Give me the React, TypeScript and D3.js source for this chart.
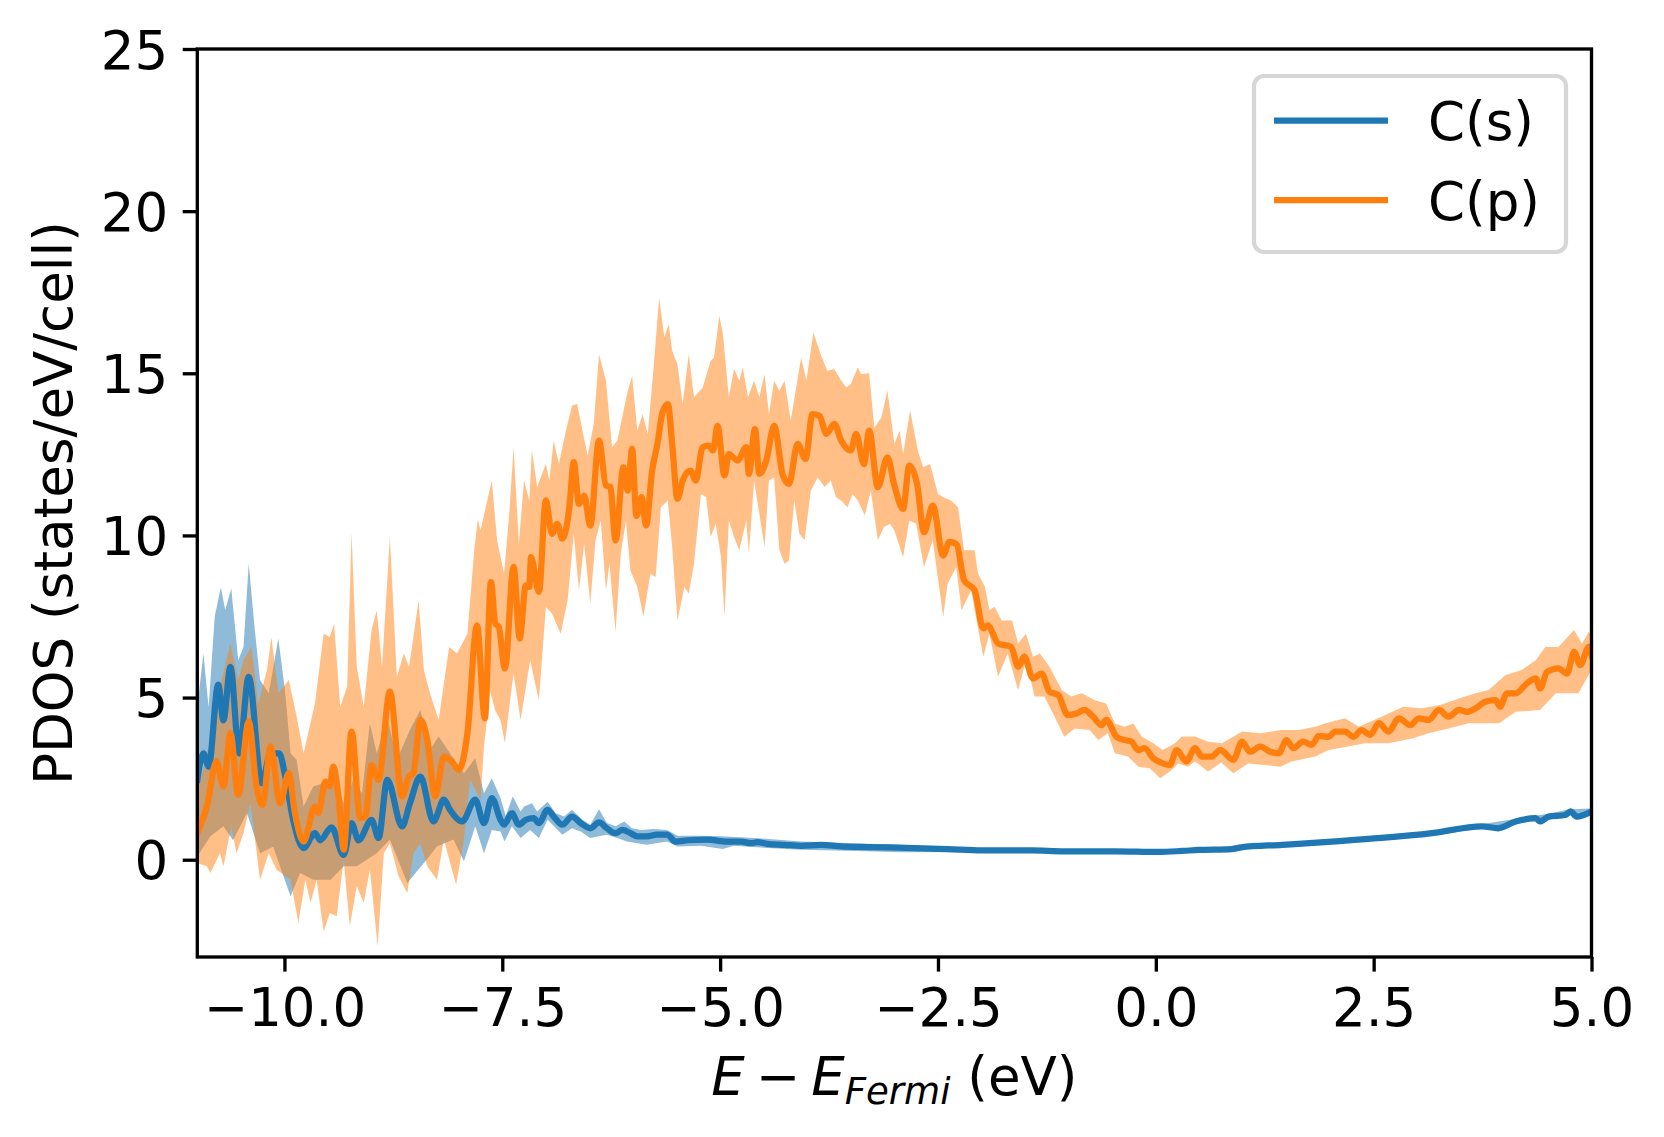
import { useEffect, useRef } from 'react';
import * as d3 from 'd3';

type Pt = [number, number];

const xTicks = [-10, -7.5, -5, -2.5, 0, 2.5, 5];
const yTicks = [0, 5, 10, 15, 20, 25];
const seriesNames = ['C(s)', 'C(p)'];
const seriesColors = ['#1f77b4', '#ff7f0e'];

// C(s): mean curve and the edges of its shaded band, [E - E_Fermi (eV), PDOS]
const sLine: Pt[] = [
  [-11.0, 2.46], [-10.93, 3.28], [-10.87, 2.87], [-10.76, 5.4], [-10.7, 4.3], [-10.62, 5.95],
  [-10.52, 3.28], [-10.41, 5.64], [-10.26, 2.36], [-10.16, 3.28], [-10.06, 3.28], [-9.99, 2.56],
  [-9.9, 1.23], [-9.78, 0.36], [-9.65, 0.82], [-9.59, 0.6], [-9.46, 1.0], [-9.32, 0.15],
  [-9.23, 1.13], [-9.15, 0.6], [-9.0, 1.23], [-8.92, 0.67], [-8.82, 2.46], [-8.65, 1.03],
  [-8.56, 1.74], [-8.44, 2.56], [-8.29, 1.18], [-8.17, 1.85], [-8.1, 1.54], [-7.96, 1.18],
  [-7.81, 1.85], [-7.71, 1.13], [-7.62, 1.9], [-7.52, 1.23], [-7.48, 1.08], [-7.39, 1.44],
  [-7.31, 1.08], [-7.23, 1.23], [-7.14, 1.28], [-7.08, 1.13], [-6.98, 1.54], [-6.91, 1.33],
  [-6.81, 1.08], [-6.7, 1.33], [-6.6, 1.13], [-6.49, 0.97], [-6.39, 1.15], [-6.3, 0.97],
  [-6.2, 0.82], [-6.12, 0.92], [-6.03, 0.82], [-5.95, 0.72], [-5.84, 0.72], [-5.72, 0.77],
  [-5.61, 0.77], [-5.51, 0.56], [-5.37, 0.6], [-5.15, 0.62], [-4.92, 0.56], [-4.76, 0.56],
  [-4.65, 0.51], [-4.57, 0.54], [-4.46, 0.49], [-4.26, 0.46], [-4.07, 0.43], [-3.84, 0.46],
  [-3.61, 0.41], [-3.31, 0.39], [-2.77, 0.36], [-2.39, 0.33], [-2.0, 0.29], [-1.43, 0.29],
  [-1.05, 0.26], [-0.47, 0.26], [0.03, 0.24], [0.3, 0.27], [0.49, 0.3], [0.87, 0.33],
  [0.98, 0.38], [1.45, 0.46], [2.02, 0.56], [2.59, 0.67], [3.17, 0.82], [3.74, 1.03],
  [3.93, 0.97], [4.13, 1.18], [4.36, 1.28], [4.41, 1.18], [4.51, 1.33], [4.7, 1.38],
  [4.76, 1.49], [4.83, 1.33], [5.0, 1.49],
];

const sUpper: Pt[] = [
  [-11.0, 4.7], [-10.93, 6.36], [-10.87, 4.7], [-10.8, 7.5], [-10.73, 8.4], [-10.68, 7.7],
  [-10.61, 8.36], [-10.53, 6.15], [-10.47, 6.56], [-10.41, 9.13], [-10.34, 7.08], [-10.28, 5.54],
  [-10.18, 5.13], [-10.07, 6.82], [-9.99, 5.13], [-9.93, 3.28], [-9.86, 3.08], [-9.78, 1.64],
  [-9.67, 2.26], [-9.55, 2.36], [-9.44, 2.67], [-9.32, 1.74], [-9.21, 2.46], [-9.11, 2.05],
  [-9.02, 4.2], [-8.94, 3.28], [-8.82, 4.41], [-8.71, 3.08], [-8.56, 4.0], [-8.44, 4.62],
  [-8.33, 3.38], [-8.23, 3.8], [-8.1, 3.28], [-7.94, 2.67], [-7.81, 3.13], [-7.71, 2.05],
  [-7.62, 2.51], [-7.52, 1.9], [-7.46, 1.35], [-7.38, 1.95], [-7.29, 1.49], [-7.25, 1.64],
  [-7.16, 1.74], [-7.1, 1.49], [-6.98, 1.79], [-6.89, 1.44], [-6.79, 1.33], [-6.7, 1.54],
  [-6.58, 1.23], [-6.49, 1.08], [-6.39, 1.56], [-6.3, 1.13], [-6.2, 1.03], [-6.1, 1.18],
  [-6.01, 0.97], [-5.91, 0.92], [-5.76, 0.95], [-5.61, 0.92], [-5.49, 0.74], [-5.22, 0.74],
  [-4.99, 0.72], [-4.61, 0.67], [-4.07, 0.56], [-3.31, 0.49], [-2.92, 0.46], [-2.0, 0.34],
  [-1.0, 0.31], [0.0, 0.29], [0.5, 0.35], [1.0, 0.43], [1.5, 0.51], [2.0, 0.62],
  [2.6, 0.73], [3.2, 0.88], [3.75, 1.1], [4.1, 1.25], [4.5, 1.42], [4.75, 1.56], [5.0, 1.58],
];

const sLower: Pt[] = [
  [-11.0, 0.1], [-10.85, 0.72], [-10.7, 1.03], [-10.59, 0.6], [-10.43, 1.44], [-10.28, 0.2],
  [-10.13, 0.4], [-9.93, -1.13], [-9.82, -0.41], [-9.67, -0.62], [-9.47, -0.62], [-9.32, -0.2],
  [-9.17, -0.2], [-8.94, 0.2], [-8.79, 0.62], [-8.59, -0.72], [-8.4, -0.1], [-8.25, 0.41],
  [-8.06, 0.62], [-7.94, -0.05], [-7.81, 1.03], [-7.71, 0.2], [-7.62, 0.92], [-7.52, 0.87],
  [-7.475, 0.56], [-7.39, 1.03], [-7.29, 0.67], [-7.18, 0.92], [-7.08, 0.67], [-6.98, 1.23],
  [-6.81, 0.77], [-6.7, 0.97], [-6.6, 0.87], [-6.49, 0.67], [-6.39, 0.72], [-6.3, 0.77],
  [-6.18, 0.67], [-6.07, 0.56], [-5.95, 0.51], [-5.84, 0.46], [-5.61, 0.56], [-5.49, 0.41],
  [-5.22, 0.43], [-4.97, 0.33], [-4.84, 0.43], [-4.46, 0.36], [-4.07, 0.31], [-3.31, 0.26],
  [-2.92, 0.23], [-2.0, 0.24], [-1.0, 0.21], [0.0, 0.19], [0.5, 0.25], [1.0, 0.33],
  [1.5, 0.41], [2.0, 0.5], [2.6, 0.61], [3.2, 0.76], [3.75, 0.96], [4.1, 1.1], [4.5, 1.25],
  [4.75, 1.36], [5.0, 1.38],
];

// C(p)
const pLine: Pt[] = [
  [-11.0, 0.82], [-10.89, 1.64], [-10.78, 3.03], [-10.7, 2.26], [-10.62, 3.9], [-10.53, 2.0],
  [-10.41, 4.26], [-10.32, 2.26], [-10.25, 1.69], [-10.16, 3.49], [-10.05, 1.74], [-9.95, 2.67],
  [-9.88, 1.44], [-9.78, 0.56], [-9.65, 1.64], [-9.61, 1.44], [-9.53, 2.41], [-9.48, 2.26],
  [-9.44, 2.87], [-9.38, 1.95], [-9.32, 0.31], [-9.23, 3.95], [-9.13, 1.28], [-9.07, 1.33],
  [-9.0, 2.92], [-8.92, 2.46], [-8.79, 5.18], [-8.65, 1.95], [-8.57, 2.56], [-8.52, 2.67],
  [-8.44, 4.31], [-8.36, 3.69], [-8.27, 1.95], [-8.17, 3.18], [-8.08, 3.03], [-8.0, 2.77],
  [-7.9, 3.9], [-7.79, 7.23], [-7.7, 4.36], [-7.63, 8.56], [-7.58, 7.28], [-7.54, 7.18],
  [-7.47, 5.9], [-7.37, 9.03], [-7.3, 6.82], [-7.23, 8.46], [-7.19, 8.41], [-7.17, 9.33],
  [-7.08, 8.26], [-7.0, 11.08], [-6.93, 10.05], [-6.87, 10.36], [-6.81, 9.9], [-6.73, 10.87],
  [-6.68, 12.26], [-6.62, 10.97], [-6.56, 11.23], [-6.49, 10.3], [-6.39, 12.92], [-6.31, 11.54],
  [-6.26, 11.49], [-6.2, 9.85], [-6.11, 12.1], [-6.06, 11.38], [-6.01, 12.67], [-5.96, 10.6],
  [-5.9, 11.18], [-5.85, 10.31], [-5.78, 12.0], [-5.72, 12.82], [-5.66, 13.8], [-5.6, 14.05],
  [-5.55, 12.82], [-5.49, 11.13], [-5.43, 11.69], [-5.34, 12.0], [-5.28, 11.69], [-5.2, 12.72],
  [-5.13, 12.77], [-5.08, 12.62], [-5.03, 13.38], [-4.95, 11.85], [-4.9, 12.51], [-4.8, 12.31],
  [-4.7, 12.72], [-4.67, 11.9], [-4.6, 13.28], [-4.55, 11.9], [-4.47, 12.31], [-4.38, 13.38],
  [-4.28, 11.85], [-4.21, 11.59], [-4.11, 12.82], [-4.02, 12.36], [-3.94, 13.74], [-3.86, 13.69],
  [-3.78, 13.13], [-3.69, 13.44], [-3.61, 12.92], [-3.5, 12.62], [-3.44, 13.13], [-3.35, 12.2],
  [-3.29, 13.23], [-3.19, 11.49], [-3.08, 12.41], [-3.0, 11.54], [-2.9, 10.82], [-2.83, 12.15],
  [-2.74, 11.59], [-2.66, 10.1], [-2.56, 10.92], [-2.44, 9.38], [-2.37, 9.8], [-2.29, 9.74],
  [-2.2, 8.62], [-2.08, 8.31], [-1.98, 7.13], [-1.93, 7.23], [-1.81, 6.67], [-1.66, 6.56],
  [-1.58, 5.95], [-1.51, 6.26], [-1.41, 5.59], [-1.31, 5.74], [-1.22, 5.18], [-1.12, 5.08],
  [-1.01, 4.46], [-0.91, 4.51], [-0.82, 4.62], [-0.72, 4.41], [-0.62, 4.15], [-0.57, 4.31],
  [-0.45, 3.79], [-0.36, 3.69], [-0.28, 3.64], [-0.2, 3.38], [-0.13, 3.44], [-0.03, 3.13],
  [0.08, 2.97], [0.16, 2.92], [0.24, 3.38], [0.35, 3.03], [0.45, 3.44], [0.53, 3.18],
  [0.64, 3.18], [0.74, 3.38], [0.89, 3.08], [0.99, 3.64], [1.08, 3.33], [1.2, 3.49],
  [1.31, 3.33], [1.41, 3.28], [1.5, 3.69], [1.58, 3.44], [1.69, 3.64], [1.79, 3.54],
  [1.87, 3.82], [1.98, 3.79], [2.06, 3.95], [2.17, 3.95], [2.27, 3.79], [2.36, 4.0],
  [2.46, 3.85], [2.56, 4.21], [2.67, 3.95], [2.79, 4.36], [2.92, 4.15], [3.02, 4.36],
  [3.13, 4.31], [3.25, 4.62], [3.36, 4.41], [3.48, 4.62], [3.57, 4.56], [3.67, 4.67],
  [3.78, 4.87], [3.9, 4.92], [3.95, 4.72], [4.03, 5.13], [4.13, 5.13], [4.26, 5.44],
  [4.36, 5.59], [4.41, 5.28], [4.49, 5.79], [4.62, 5.9], [4.72, 5.74], [4.8, 6.41],
  [4.87, 6.0], [4.97, 6.56], [5.0, 6.31],
];

const pUpper: Pt[] = [
  [-11.0, 2.05], [-10.89, 3.28], [-10.82, 3.9], [-10.74, 5.33], [-10.62, 6.67], [-10.53, 5.54],
  [-10.47, 6.15], [-10.38, 6.56], [-10.3, 4.82], [-10.2, 5.85], [-10.15, 6.87], [-10.07, 5.13],
  [-9.95, 5.54], [-9.86, 4.41], [-9.78, 3.28], [-9.65, 4.82], [-9.55, 6.97], [-9.48, 6.87],
  [-9.43, 7.28], [-9.36, 4.72], [-9.28, 5.33], [-9.23, 10.1], [-9.17, 5.95], [-9.09, 4.72],
  [-9.0, 7.08], [-8.94, 7.69], [-8.88, 5.95], [-8.79, 9.95], [-8.71, 5.64], [-8.63, 6.36],
  [-8.57, 5.95], [-8.46, 8.0], [-8.4, 5.85], [-8.33, 5.13], [-8.23, 4.31], [-8.11, 6.56],
  [-8.02, 6.36], [-7.9, 6.97], [-7.82, 9.6], [-7.78, 10.5], [-7.75, 10.15], [-7.62, 11.69],
  [-7.56, 9.85], [-7.48, 8.82], [-7.42, 10.67], [-7.37, 12.72], [-7.31, 9.74], [-7.25, 11.69],
  [-7.19, 11.08], [-7.16, 12.62], [-7.1, 11.49], [-7.0, 12.21], [-6.96, 11.69], [-6.91, 12.92],
  [-6.85, 12.21], [-6.77, 13.23], [-6.7, 14.0], [-6.64, 14.05], [-6.58, 13.23], [-6.52, 12.46],
  [-6.45, 13.44], [-6.39, 15.59], [-6.31, 14.77], [-6.24, 12.72], [-6.18, 12.92], [-6.06, 14.46],
  [-6.01, 14.92], [-5.95, 13.23], [-5.89, 13.74], [-5.83, 13.13], [-5.76, 15.28], [-5.7, 17.33],
  [-5.64, 16.1], [-5.59, 16.51], [-5.55, 15.69], [-5.49, 15.28], [-5.43, 14.05], [-5.36, 15.59],
  [-5.3, 14.26], [-5.2, 14.56], [-5.11, 15.38], [-5.07, 15.49], [-5.01, 16.77], [-4.97, 16.26],
  [-4.9, 14.26], [-4.84, 15.13], [-4.78, 14.77], [-4.74, 15.18], [-4.68, 14.26], [-4.61, 14.77],
  [-4.55, 14.26], [-4.49, 14.97], [-4.44, 13.74], [-4.38, 14.77], [-4.32, 14.46], [-4.26, 14.77],
  [-4.19, 13.54], [-4.07, 15.49], [-4.01, 14.77], [-3.93, 16.26], [-3.84, 15.54], [-3.77, 15.08],
  [-3.69, 15.13], [-3.61, 14.77], [-3.55, 14.56], [-3.5, 14.67], [-3.42, 15.18], [-3.38, 14.97],
  [-3.29, 15.0], [-3.23, 13.33], [-3.15, 13.64], [-3.08, 14.46], [-3.0, 12.82], [-2.94, 13.23],
  [-2.9, 12.5], [-2.82, 13.85], [-2.73, 12.6], [-2.67, 12.1], [-2.59, 12.2], [-2.5, 11.28],
  [-2.44, 11.18], [-2.35, 11.08], [-2.27, 10.87], [-2.2, 9.54], [-2.08, 9.54], [-2.04, 8.82],
  [-1.96, 8.41], [-1.91, 7.69], [-1.85, 7.8], [-1.77, 7.38], [-1.65, 7.38], [-1.58, 6.67],
  [-1.49, 6.97], [-1.41, 6.26], [-1.33, 6.36], [-1.22, 5.95], [-1.08, 5.23], [-0.97, 5.03],
  [-0.85, 5.13], [-0.7, 4.92], [-0.57, 4.82], [-0.47, 4.2], [-0.36, 4.1], [-0.26, 4.2],
  [-0.16, 3.79], [-0.03, 3.59], [0.08, 3.38], [0.22, 3.59], [0.3, 3.8], [0.45, 3.8],
  [0.6, 3.64], [0.76, 3.59], [0.99, 3.95], [1.2, 3.9], [1.44, 4.0], [1.64, 4.0],
  [1.83, 4.1], [1.94, 4.2], [2.17, 4.36], [2.33, 4.1], [2.59, 4.41], [2.84, 4.72],
  [3.05, 4.67], [3.26, 4.77], [3.48, 4.97], [3.67, 5.13], [3.82, 5.23], [4.01, 5.69],
  [4.2, 5.85], [4.36, 6.15], [4.47, 6.56], [4.62, 6.56], [4.8, 7.08], [4.89, 6.67],
  [4.97, 7.03], [5.0, 6.87],
];

const pLower: Pt[] = [
  [-11.0, -0.1], [-10.89, -0.2], [-10.85, -0.41], [-10.74, 0.2], [-10.7, -0.2], [-10.61, 1.03],
  [-10.55, 0.2], [-10.47, 0.82], [-10.39, 1.74], [-10.28, -0.62], [-10.18, 0.2], [-10.09, -0.31],
  [-9.93, -0.62], [-9.84, -1.95], [-9.76, -0.62], [-9.7, -1.33], [-9.63, -0.62], [-9.55, -2.21],
  [-9.48, -1.64], [-9.4, -1.74], [-9.32, 0.0], [-9.25, -2.05], [-9.17, -0.82], [-9.09, -1.33],
  [-9.02, -0.31], [-8.93, -2.67], [-8.86, 0.2], [-8.79, 0.51], [-8.69, -0.51], [-8.59, -1.03],
  [-8.52, 0.2], [-8.44, 0.51], [-8.36, -0.2], [-8.25, -0.62], [-8.17, 0.62], [-8.03, -0.77],
  [-7.94, 0.62], [-7.87, 2.46], [-7.75, 1.85], [-7.71, 3.49], [-7.64, 5.2], [-7.58, 4.6],
  [-7.52, 4.3], [-7.47, 3.6], [-7.41, 4.92], [-7.37, 5.74], [-7.29, 4.31], [-7.18, 6.15],
  [-7.08, 4.92], [-7.0, 7.79], [-6.93, 7.59], [-6.83, 6.97], [-6.75, 8.0], [-6.68, 10.05],
  [-6.62, 8.31], [-6.56, 9.74], [-6.49, 7.9], [-6.43, 9.85], [-6.37, 10.46], [-6.31, 8.31],
  [-6.27, 9.13], [-6.2, 7.03], [-6.14, 9.44], [-6.08, 10.46], [-6.03, 8.92], [-5.95, 8.41],
  [-5.88, 7.49], [-5.8, 8.82], [-5.74, 8.72], [-5.68, 10.87], [-5.6, 11.08], [-5.55, 9.64],
  [-5.49, 7.38], [-5.41, 8.41], [-5.36, 8.21], [-5.3, 9.13], [-5.22, 11.28], [-5.16, 11.18],
  [-5.11, 9.95], [-5.05, 10.36], [-4.99, 9.33], [-4.95, 7.49], [-4.9, 10.46], [-4.84, 9.95],
  [-4.78, 9.54], [-4.7, 10.46], [-4.67, 9.44], [-4.61, 11.69], [-4.55, 10.67], [-4.49, 9.64],
  [-4.44, 11.69], [-4.38, 11.79], [-4.32, 9.54], [-4.26, 9.13], [-4.21, 9.23], [-4.15, 11.08],
  [-4.09, 10.05], [-4.03, 9.85], [-3.96, 11.38], [-3.88, 11.79], [-3.8, 11.49], [-3.73, 11.69],
  [-3.67, 11.18], [-3.61, 11.08], [-3.54, 10.87], [-3.48, 11.28], [-3.42, 11.08], [-3.34, 10.62],
  [-3.27, 11.38], [-3.19, 9.85], [-3.12, 10.26], [-3.05, 10.36], [-3.0, 10.15], [-2.9, 9.33],
  [-2.83, 10.46], [-2.75, 10.36], [-2.66, 9.03], [-2.56, 9.85], [-2.44, 7.49], [-2.39, 8.51],
  [-2.29, 9.03], [-2.23, 7.69], [-2.12, 8.31], [-1.98, 6.26], [-1.91, 6.97], [-1.81, 5.64],
  [-1.7, 6.36], [-1.58, 5.23], [-1.49, 6.15], [-1.39, 5.03], [-1.28, 5.03], [-1.18, 4.51],
  [-1.05, 3.79], [-0.93, 4.05], [-0.76, 4.0], [-0.66, 3.69], [-0.55, 3.9], [-0.47, 3.28],
  [-0.32, 3.18], [-0.2, 2.87], [-0.07, 2.82], [0.05, 2.51], [0.16, 2.72], [0.26, 2.97],
  [0.37, 2.87], [0.45, 3.03], [0.6, 2.72], [0.75, 3.0], [0.89, 2.67], [1.06, 2.97],
  [1.43, 2.87], [1.56, 3.03], [1.83, 3.18], [1.98, 3.38], [2.21, 3.49], [2.4, 3.59],
  [2.67, 3.59], [2.94, 3.74], [3.13, 3.9], [3.36, 4.05], [3.59, 4.21], [3.94, 4.21],
  [4.13, 4.56], [4.41, 4.62], [4.59, 5.13], [4.85, 5.13], [5.0, 5.85],
];

const series = [
  { line: sLine, upper: sUpper, lower: sLower },
  { line: pLine, upper: pUpper, lower: pLower },
];

export default function App() {
  const svgRef = useRef<SVGSVGElement>(null);

  useEffect(() => {
    if (!svgRef.current) return;
    const svg = d3.select(svgRef.current);
    svg.selectAll('*').remove();

    const width = 1664;
    const height = 1137;
    const margin = { top: 49, right: 72.5, bottom: 180, left: 197.3 };
    const font = 'DejaVu Sans';
    const fs = 53;
    const lw = 6.25;
    const tick = 14.6;

    const x = d3.scaleLinear().domain([-11, 5]).range([margin.left, width - margin.right]);
    const y = d3.scaleLinear().domain([-3, 25]).range([height - margin.bottom, margin.top]);
    const [x0, x1] = x.range();
    const [y1, y0] = y.range();

    svg.append('rect').attr('width', width).attr('height', height).attr('fill', '#fff');

    svg
      .append('clipPath')
      .attr('id', 'plot-area')
      .append('rect')
      .attr('x', x0)
      .attr('y', y0)
      .attr('width', x1 - x0)
      .attr('height', y1 - y0);

    const plot = svg.append('g').attr('clip-path', 'url(#plot-area)');

    const edge = d3
      .line<Pt>()
      .x((d) => x(d[0]))
      .y((d) => y(d[1]));
    const smooth = d3
      .line<Pt>()
      .x((d) => x(d[0]))
      .y((d) => y(d[1]))
      .curve(d3.curveMonotoneX);

    // shaded bands first, then the curves on top
    series.forEach((s, i) => {
      plot
        .append('path')
        .attr('d', edge([...s.upper, ...s.lower.slice().reverse()]) + 'Z')
        .attr('fill', seriesColors[i])
        .attr('fill-opacity', 0.5);
    });
    series.forEach((s, i) => {
      plot
        .append('path')
        .attr('d', smooth(s.line))
        .attr('fill', 'none')
        .attr('stroke', seriesColors[i])
        .attr('stroke-width', lw)
        .attr('stroke-linejoin', 'round')
        .attr('stroke-linecap', 'square');
    });

    // axes
    const xAxis = svg
      .append('g')
      .attr('transform', `translate(0,${y1})`)
      .call(
        d3
          .axisBottom(x)
          .tickValues(xTicks)
          .tickFormat(d3.format('.1f') as any)
          .tickSize(tick)
          .tickSizeOuter(0)
          .tickPadding(16.8)
      );
    const yAxis = svg
      .append('g')
      .attr('transform', `translate(${x0},0)`)
      .call(
        d3
          .axisLeft(y)
          .tickValues(yTicks)
          .tickFormat(d3.format('d') as any)
          .tickSize(tick)
          .tickSizeOuter(0)
          .tickPadding(tick)
      );
    [xAxis, yAxis].forEach((a) => {
      a.select('.domain').remove();
      a.selectAll('line').attr('stroke', '#000').attr('stroke-width', 3.33);
      a.selectAll('text')
        .attr('fill', '#000')
        .attr('font-family', font)
        .attr('font-size', fs);
    });
    yAxis.selectAll('text').attr('dy', '0.36em');

    svg
      .append('rect')
      .attr('x', x0)
      .attr('y', y0)
      .attr('width', x1 - x0)
      .attr('height', y1 - y0)
      .attr('fill', 'none')
      .attr('stroke', '#000')
      .attr('stroke-width', 3.33)
      .attr('stroke-linejoin', 'miter');

    // axis labels
    const xl = svg
      .append('text')
      .attr('x', (x0 + x1) / 2)
      .attr('y', 1095)
      .attr('text-anchor', 'middle')
      .attr('font-family', font)
      .attr('font-size', fs)
      .attr('fill', '#000');
    xl.append('tspan').attr('font-style', 'italic').text('E');
    xl.append('tspan').attr('dx', 11).text('−');
    xl.append('tspan').attr('dx', 11).attr('font-style', 'italic').text('E');
    xl.append('tspan')
      .attr('font-style', 'italic')
      .attr('font-size', fs * 0.7)
      .attr('dy', 9)
      .text('Fermi');
    xl.append('tspan').attr('dy', -9).text('\u00a0(eV)');

    svg
      .append('text')
      .attr('transform', `translate(72,${(y0 + y1) / 2}) rotate(-90)`)
      .attr('text-anchor', 'middle')
      .attr('font-family', font)
      .attr('font-size', fs)
      .attr('fill', '#000')
      .text('PDOS (states/eV/cell)');

    // legend
    const lg = svg.append('g');
    lg.append('rect')
      .attr('x', 1254)
      .attr('y', 76)
      .attr('width', 312)
      .attr('height', 176)
      .attr('rx', 10)
      .attr('fill', '#fff')
      .attr('fill-opacity', 0.8)
      .attr('stroke', '#d6d6d6')
      .attr('stroke-width', 4.2);
    seriesNames.forEach((name, i) => {
      const cy = 120.7 + i * 79.3;
      lg.append('line')
        .attr('x1', 1274)
        .attr('x2', 1388)
        .attr('y1', cy)
        .attr('y2', cy)
        .attr('stroke', seriesColors[i])
        .attr('stroke-width', lw);
      lg.append('text')
        .attr('x', 1428)
        .attr('y', cy + 19.5)
        .attr('font-family', font)
        .attr('font-size', fs)
        .attr('fill', '#000')
        .text(name);
    });
  }, []);

  return (
    <svg
      ref={svgRef}
      width={1664}
      height={1137}
      viewBox='0 0 1664 1137'
      style={{ position: 'absolute', left: 0, top: 0, display: 'block' }}
    />
  );
}
